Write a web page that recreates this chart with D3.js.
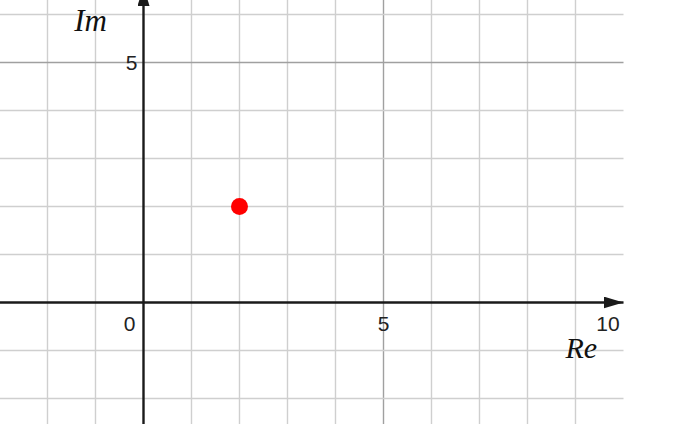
<!DOCTYPE html>
<html><head><meta charset="utf-8">
<script src="https://cdn.jsdelivr.net/npm/d3@7"></script>
<style>html,body{margin:0;padding:0;background:#fff;overflow:hidden}</style>
</head><body>
<svg id="c" width="686" height="424"></svg>
<script>
// Data
const points = [{re: 2, im: 2}];
const gridX = [-2,-1,0,1,2,3,4,5,6,7,8,9];
const gridY = [-2,-1,0,1,2,3,4,5,6];
const majorGrid = [5];
const xTickLabels = [0, 5, 10];
const yTickLabels = [5];
const axisLabels = {re: "Re", im: "Im"};

const svg = d3.select("#c");
const x = d3.scaleLinear().domain([0, 10]).range([143.5, 623.5]);
const y = d3.scaleLinear().domain([0, 5]).range([302.5, 62.5]);
const xMin = -3, xMax = 10;
const yMin = y.invert(424), yMax = y.invert(0);

const g = svg.append("g");
// grid
g.selectAll("line.gx").data(gridX.filter(d => d !== 0)).join("line")
  .attr("x1", d => x(d)).attr("x2", d => x(d))
  .attr("y1", y(yMin)).attr("y2", y(yMax))
  .attr("stroke", d => majorGrid.includes(d) ? "#a0a0a0" : "#cfcfcf")
  .attr("stroke-width", 1.4);
g.selectAll("line.gy").data(gridY.filter(d => d !== 0)).join("line")
  .attr("x1", x(xMin)).attr("x2", x(xMax))
  .attr("y1", d => y(d)).attr("y2", d => y(d))
  .attr("stroke", d => majorGrid.includes(d) ? "#a0a0a0" : "#cfcfcf")
  .attr("stroke-width", 1.4);

// arrow marker
const defs = svg.append("defs");
defs.append("marker").attr("id", "arr").attr("viewBox", "0 0 20 12")
  .attr("refX", 20).attr("refY", 6).attr("markerWidth", 20).attr("markerHeight", 12)
  .attr("markerUnits", "userSpaceOnUse").attr("orient", "auto")
  .append("path").attr("d", "M0,0 L20,6 L0,12 Z").attr("fill", "#1a1a1a");

// axes
g.append("line").attr("x1", x(xMin)).attr("x2", x(xMax))
  .attr("y1", y(0)).attr("y2", y(0))
  .attr("stroke", "#1a1a1a").attr("stroke-width", 2.4).attr("marker-end", "url(#arr)");
g.append("line").attr("x1", x(0)).attr("x2", x(0))
  .attr("y1", y(yMin)).attr("y2", y(yMax) - 14)
  .attr("stroke", "#1a1a1a").attr("stroke-width", 2.4).attr("marker-end", "url(#arr)");

// tick labels
const font = "'Liberation Sans', Arial, sans-serif";
g.selectAll("text.xt").data(xTickLabels).join("text")
  .attr("x", d => d === 0 ? x(d) - 8 : (d === 10 ? x(d) - 15.5 : x(d)))
  .attr("y", y(0) + 28)
  .attr("text-anchor", d => d === 0 ? "end" : "middle")
  .attr("font-family", font).attr("font-size", 21).attr("fill", "#222")
  .text(d => d);
g.selectAll("text.yt").data(yTickLabels).join("text")
  .attr("x", x(0) - 6).attr("y", d => y(d) + 7.5)
  .attr("text-anchor", "end")
  .attr("font-family", font).attr("font-size", 21).attr("fill", "#222")
  .text(d => d);

// axis names
const serif = "'Liberation Serif', 'Times New Roman', serif";
g.append("text").attr("x", x(9.12)).attr("y", y(0) + 55)
  .attr("text-anchor", "middle").attr("font-family", serif).attr("font-style", "italic")
  .attr("font-size", 30).attr("fill", "#111").text(axisLabels.re);
g.append("text").attr("x", x(0) - 53).attr("y", 31)
  .attr("text-anchor", "middle").attr("font-family", serif).attr("font-style", "italic")
  .attr("font-size", 31).attr("fill", "#111").text(axisLabels.im);

// points
g.selectAll("circle").data(points).join("circle")
  .attr("cx", d => x(d.re)).attr("cy", d => y(d.im)).attr("r", 8.5)
  .attr("fill", "#ff0000");
</script>
</body></html>
